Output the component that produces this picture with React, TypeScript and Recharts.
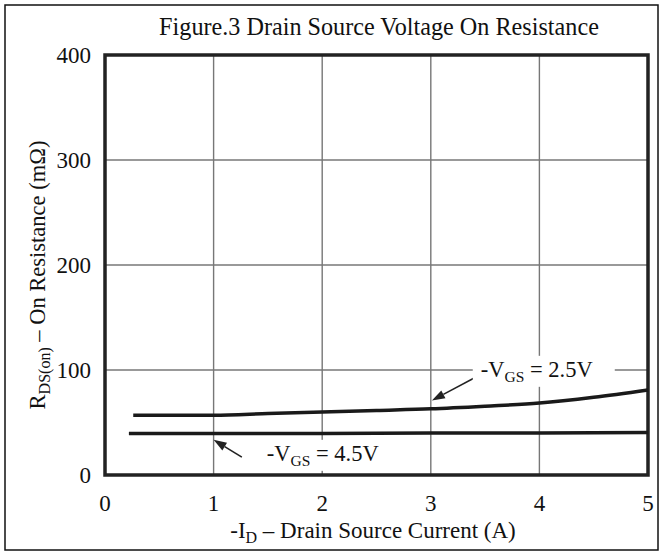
import React from 'react';
import { LineChart, Line, XAxis, YAxis, CartesianGrid, ReferenceArea, ReferenceLine, ReferenceDot, Customized } from 'recharts';

const xTicks = [0, 1, 2, 3, 4, 5];
const yTicks = [0, 100, 200, 300, 400];

const vgs25X = [0.26, 0.5, 1, 1.5, 2, 2.5, 3, 3.5, 4, 4.5, 5];
const vgs25Y = [57, 57, 57, 58.5, 60, 61.5, 63, 65.5, 68.5, 74, 81];
const vgs45X = [0.22, 1, 2, 3, 4, 5];
const vgs45Y = [39.5, 39.5, 39.5, 40, 40, 40.5];

const series25 = vgs25X.map((x, i) => ({ x, y: vgs25Y[i] }));
const series45 = vgs45X.map((x, i) => ({ x, y: vgs45Y[i] }));

const FONT = '"Liberation Serif", "Times New Roman", serif';

const Arrow = (props: any) => {
  const { x1, y1, x2, y2 } = props;
  if (x1 == null) return null;
  const ang = Math.atan2(y2 - y1, x2 - x1);
  const L = 13, W = 4.5;
  const bx = x2 - L * Math.cos(ang), by = y2 - L * Math.sin(ang);
  const px = -Math.sin(ang) * W, py = Math.cos(ang) * W;
  return (
    <g>
      <line x1={x1} y1={y1} x2={bx} y2={by} stroke="#222" strokeWidth={1.6} />
      <polygon points={`${x2},${y2} ${bx + px},${by + py} ${bx - px},${by - py}`} fill="#222" />
    </g>
  );
};

const vgsShape = (value: string, w: number) => (props: any) => {
  const { cx, cy } = props;
  if (cx == null) return null;
  return (
    <g>
      <rect x={cx - 8} y={cy - 21} width={w} height={31} fill="#fff" />
      <text x={cx} y={cy} fontFamily={FONT} fontSize={22.5} fill="#111">
        <tspan>-V</tspan>
        <tspan fontSize={15.5} dy={5}>GS</tspan>
        <tspan dy={-5}>{` = ${value}`}</tspan>
      </text>
    </g>
  );
};

const Texts = () => (
  <g fontFamily={FONT} fill="#111">
    <rect x={5} y={5} width={653} height={545} fill="none" stroke="#111" strokeWidth={1.5} />
    <text x={379} y={35} textAnchor="middle" fontSize={24.2}>Figure.3 Drain Source Voltage On Resistance</text>
    <text x={373} y={538} textAnchor="middle" fontSize={23}>
      <tspan>-I</tspan>
      <tspan fontSize={16} dy={5}>D</tspan>
      <tspan dy={-5}> – Drain Source Current (A)</tspan>
    </text>
    <text x={0} y={0} transform="translate(45,275) rotate(-90)" textAnchor="middle" fontSize={22.5}>
      <tspan>R</tspan>
      <tspan fontSize={16} dy={5}>DS(on)</tspan>
      <tspan dy={-5}> – On Resistance (mΩ)</tspan>
    </text>
  </g>
);

export default function App() {
  return (
    <div style={{ position: 'absolute', left: 0, top: 0, width: 663, height: 555, background: '#fff' }}>
      <LineChart width={663} height={555} margin={{ top: 55, right: 15, left: 45, bottom: 40 }}>
        <CartesianGrid stroke="#777" strokeWidth={1.4} vertical horizontal />
        <XAxis
          type="number"
          dataKey="x"
          domain={[0, 5]}
          ticks={xTicks}
          axisLine={false}
          tickLine={false}
          tickMargin={14}
          height={40}
          tick={{ fontFamily: FONT, fontSize: 23, fill: '#111' }}
          allowDuplicatedCategory={false}
        />
        <YAxis
          type="number"
          dataKey="y"
          domain={[0, 400]}
          ticks={yTicks}
          axisLine={false}
          tickLine={false}
          tickMargin={8}
          width={60}
          tick={{ fontFamily: FONT, fontSize: 23, fill: '#111' }}
        />
        <ReferenceDot x={3.46} y={93.5} r={1} shape={vgsShape('2.5V', 142)} />
        <ReferenceDot x={1.49} y={13.5} r={1} shape={vgsShape('4.5V', 132)} />
        <Line data={series25} dataKey="y" type="monotone" stroke="#1a1a1a" strokeWidth={3.5} dot={false} isAnimationActive={false} />
        <Line data={series45} dataKey="y" type="monotone" stroke="#1a1a1a" strokeWidth={3.5} dot={false} isAnimationActive={false} />
        <ReferenceLine segment={[{ x: 3.43, y: 94 }, { x: 3.01, y: 71 }]} shape={Arrow} />
        <ReferenceLine segment={[{ x: 1.26, y: 17 }, { x: 1.0, y: 33.5 }]} shape={Arrow} />
        <ReferenceArea x1={0} x2={5} y1={0} y2={400} fill="none" stroke="#222" strokeWidth={3.5} />
        <Customized component={<Texts />} />
      </LineChart>
    </div>
  );
}
